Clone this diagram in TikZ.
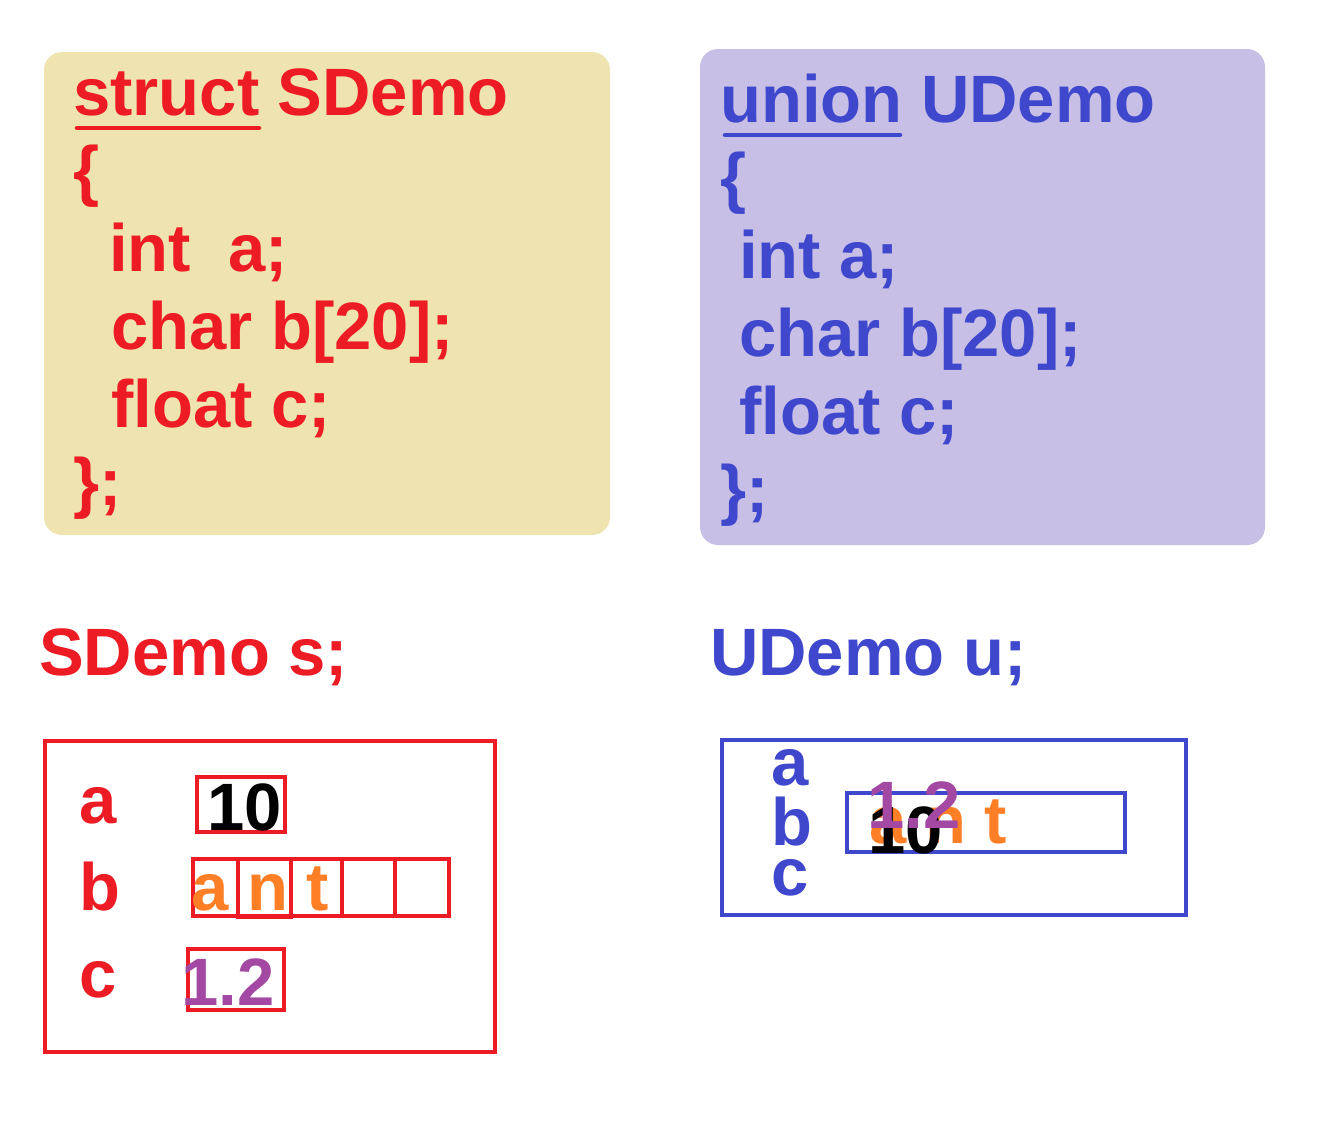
\documentclass[tikz,border=0pt]{standalone}
\usepackage{fontspec}
\setmainfont{Liberation Sans}
\definecolor{pred}{HTML}{ED1C24}
\definecolor{pblue}{HTML}{3F48CC}
\definecolor{porange}{HTML}{FF7F27}
\definecolor{ppurple}{HTML}{A349A4}
\definecolor{ptan}{HTML}{EFE4B0}
\definecolor{plav}{HTML}{C8BFE7}
\begin{document}
\begin{tikzpicture}[x=1pt,y=-1pt,
  code/.style={anchor=base west,inner sep=0pt,font=\fontsize{67}{67}\selectfont\bfseries},
  val/.style={anchor=base west,inner sep=0pt,font=\fontsize{67}{67}\selectfont\bfseries},
  frame/.style={line width=4pt},
  cell/.style={draw=pred,line width=3.5pt}]
\useasboundingbox (0,0) rectangle (1320,1128);
\fill[white] (0,0) rectangle (1320,1128);
% background panels
\fill[ptan,rounded corners=18pt] (44,52) rectangle (610,535);
\fill[plav,rounded corners=18pt] (700,49) rectangle (1265,545);
% struct code
\begin{scope}[every node/.style={code,text=pred}]
\node (s1) at (73,115) {struct SDemo};
\node (s2) at (73,193) {\{};
\node (s3) at (109,271) {int\kern 37pt a;};
\node (s4) at (111,349) {char b[20];};
\node (s5) at (111,427) {float c;};
\node (s6) at (73,505) {\};};
\end{scope}
\draw[pred,line width=4.5pt,line cap=round] (77,128) -- (259,128);
% union code
\begin{scope}[every node/.style={code,text=pblue}]
\node (u1) at (720,122) {union UDemo};
\node (u2) at (720,200) {\{};
\node (u3) at (739,278) {int a;};
\node (u4) at (739,356) {char b[20];};
\node (u5) at (739,434) {float c;};
\node (u6) at (720,512) {\};};
\end{scope}
\draw[pblue,line width=4.5pt,line cap=round] (725,135) -- (900,135);
% declarations
\node[code,text=pred] (sd) at (39,675) {SDemo s;};
\node[code,text=pblue] (ud) at (710,675) {UDemo u;};
% struct memory box
\draw[pred,frame] (45,741) rectangle (495,1052);
\node[code,text=pred] (la) at (79,823) {a};
\node[code,text=pred] (lb) at (79,910) {b};
\node[code,text=pred] (lc) at (79,997) {c};
\draw[cell] (197,777) rectangle (285,832);
\node[val] (v10) at (207,830) {10};
\draw[cell] (193,859) rectangle (449,916);
\draw[cell] (342,859) -- (342,916);
\draw[cell] (395,859) -- (395,916);
\draw[cell] (238,859) rectangle (291,917);
\node[val,text=porange] (vant) at (191,910) {a n t};
\draw[cell] (188,949) rectangle (284,1010);
\node[val,text=ppurple] (v12) at (181,1005) {1.2};
% union memory box
\draw[pblue,frame] (722,740) rectangle (1186,915);
\node[code,text=pblue] (ua) at (771,785) {a};
\node[code,text=pblue] (ub) at (771,845) {b};
\node[code,text=pblue] (uc) at (771,895) {c};
\draw[pblue,line width=3.5pt] (847,793) rectangle (1125,852);
\node[val,text=porange] (uant) at (869,843) {a n t};
\node[val,text=black] (u10) at (868,853) {10};
\node[val,text=ppurple] (u12) at (867,828) {1.2};
\end{tikzpicture}
\end{document}
